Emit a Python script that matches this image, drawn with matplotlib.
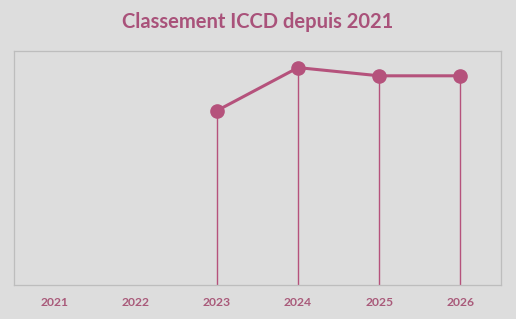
import matplotlib
matplotlib.use("Agg")
import matplotlib.pyplot as plt

# ── données ──
years = ["2021", "2022", "2023", "2024", "2025", "2026"]
scores = [None, None, 74.5, 92.9, 89.4, 89.4]

col = "#b5527c"
bg = "#dddddd"

fig = plt.figure(figsize=(5.16, 3.19), dpi=100, facecolor=bg)
ax = fig.add_axes([14 / 516, 1 - 285 / 319, 487 / 516, 234 / 319], facecolor=bg)

xs = [i for i, v in enumerate(scores) if v is not None]
ys = [v for v in scores if v is not None]
ax.vlines(xs, 0, ys, color=col, linewidth=1.0, zorder=2)
ax.plot(xs, ys, color=col, linewidth=2.2, marker="o", markersize=9.5, zorder=3)

ax.set_xlim(-0.5, len(years) - 0.5)
ax.set_ylim(0, 100)
ax.set_xticks(range(len(years)))
ax.set_xticklabels(years, fontfamily="Lato", fontweight="bold", fontsize=8.7, color="#a95a7a")
ax.tick_params(axis="x", length=0, pad=9)
ax.set_yticks([])
for s in ax.spines.values():
    s.set_color("#bdbdbd")
    s.set_linewidth(0.9)

fig.text(0.5, 1 - 22 / 319, "Classement ICCD depuis 2021", ha="center", va="center",
         fontfamily="Lato", fontweight="bold", fontsize=14.5, color="#a9527a")

fig.savefig("out.png", dpi=100, facecolor=bg)
